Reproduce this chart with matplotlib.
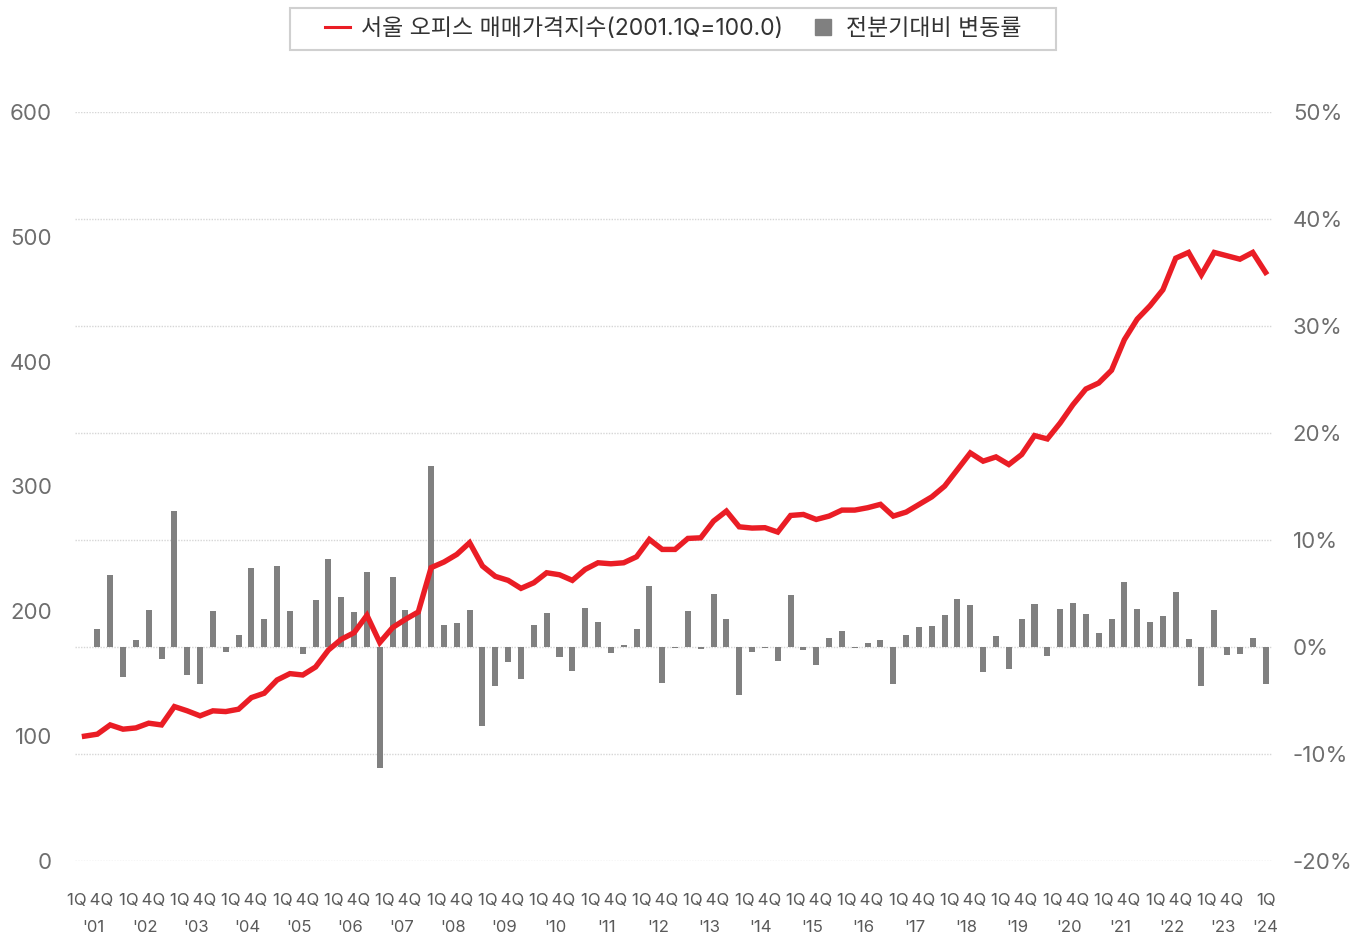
import matplotlib
matplotlib.use("Agg")
import matplotlib.pyplot as plt
from matplotlib.lines import Line2D
from matplotlib.patches import Rectangle
from matplotlib.transforms import blended_transform_factory
import numpy as np

plt.rcParams['font.family'] = ['Inter', 'Noto Sans CJK KR', 'DejaVu Sans']

# Quarters 2001Q1 .. 2024Q1
years = list(range(2001, 2025))
year_labels = ["'" + str(y)[2:] for y in years]
quarter_labels = ["1Q\u20094Q"] * 23 + ["1Q"]

index_values = [
    100, 101.6, 109, 105.6, 106.6, 110.4, 109, 123.7, 120.3, 116.3,
    120.3, 119.7, 121.6, 130.9, 134.4, 145, 150.1, 149, 155.4, 169,
    177.6, 182.9, 196.8, 175, 187, 193.6, 199.5, 235, 239.5, 245.6,
    255, 236.3, 228, 224.8, 218.4, 222.9, 230.9, 229.3, 224.8, 233.6,
    238.9, 238.1, 238.9, 243.7, 257.6, 249.6, 249.6, 258.4, 258.9, 272.3,
    280.3, 267.7, 266.7, 267, 263.5, 276.8, 277.6, 273.6, 276.3, 281.1,
    281.1, 283, 285.7, 276.3, 279.5, 285.6, 291.7, 300.3, 313.6, 326.9,
    320.3, 323.7, 317.6, 325.6, 340.8, 338.1, 350.9, 365.6, 378.1, 382.9,
    393.1, 417.6, 434.1, 444.8, 457.6, 482.9, 487.5, 469.6, 487.5, 484.8,
    482.1, 487.5, 471.5,
]

change_pct = [
    np.nan, 1.65, 6.7, -2.8, 0.63, 3.5, -1.15, 12.7, -2.6, -3.5,
    3.34, -0.5, 1.12, 7.36, 2.6, 7.54, 3.37, -0.7, 4.4, 8.26,
    4.64, 3.27, 7.0, -11.3, 6.58, 3.5, 3.27, 16.95, 2.03, 2.24,
    3.5, -7.4, -3.6, -1.43, -3.0, 2.1, 3.2, -0.93, -2.27, 3.6,
    2.34, -0.56, 0.19, 1.72, 5.7, -3.36, -0.05, 3.34, -0.2, 5.0,
    2.65, -4.5, -0.5, -0.1, -1.34, 4.86, -0.3, -1.65, 0.84, 1.53,
    -0.1, 0.42, 0.69, -3.5, 1.16, 1.87, 1.93, 2.96, 4.46, 3.9,
    -2.36, 1.0, -2.05, 2.59, 4.05, -0.87, 3.55, 4.1, 3.12, 1.31,
    2.59, 6.07, 3.52, 2.37, 2.87, 5.14, 0.75, -3.67, 3.5, -0.71,
    -0.62, 0.88, -3.49,
]

left_ticks = [0, 100, 200, 300, 400, 500, 600]
right_ticks = [-20, -10, 0, 10, 20, 30, 40, 50]

legend_line_label = "서울 오피스 매매가격지수(2001.1Q=100.0)"
legend_bar_label = "전분기대비 변동률"

RED = "#ea1d25"
BAR = "#808080"
TICK = "#6e6e6e"

W, H = 1367, 936
fig = plt.figure(figsize=(W / 100, H / 100), dpi=100)
ax = fig.add_axes([75 / W, (H - 861) / H, (1272 - 75) / W, (861 - 112) / H])
x = np.arange(len(index_values))

# bars on the main axes (percent, right side)
ax.bar(x, change_pct, width=0.47, color=BAR, zorder=2)
ax.set_ylim(-20, 50)
ax.set_yticks(right_ticks)
ax.set_yticklabels([f"{t}%" for t in right_ticks])
ax.grid(axis='y', color='#d6d6d6', linestyle=(0, (1, 1)), linewidth=1.0, zorder=0)
ax.set_axisbelow(True)

# line on twin axes (index, left side)
ax2 = ax.twinx()
ax2.plot(x, index_values, color=RED, linewidth=3.9, solid_joinstyle='miter', zorder=3)
ax2.set_ylim(0, 600)
ax2.set_yticks(left_ticks)

ax.yaxis.tick_right()
ax.yaxis.set_label_position("right")
ax2.yaxis.tick_left()
ax2.yaxis.set_label_position("left")

ax.set_xlim(-0.74, 92.5)
for a in (ax, ax2):
    for s in a.spines.values():
        s.set_visible(False)
    a.tick_params(length=0, labelsize=16, labelcolor=TICK)
    a.set_xticks([])
ax.tick_params(axis='y', pad=15)
ax2.tick_params(axis='y', pad=16.5)

trans = blended_transform_factory(ax.transData, ax.transAxes)
for k, (ql, yl) in enumerate(zip(quarter_labels, year_labels)):
    if k < 23:
        xq, xy = 4 * k + 0.45, 4 * k + 0.7
    else:
        xq, xy = 4 * k, 4 * k
    ax.text(xq, -39 / 749, ql, transform=trans, ha='center', va='center',
            fontsize=12, color='#5a5a5a')
    ax.text(xy, -67 / 749, yl, transform=trans, ha='center', va='center',
            fontsize=12, color='#5a5a5a')

# legend frame
fig.patches.append(Rectangle((290 / W, 1 - 50 / H), (1056 - 290) / W, 42 / H,
                             transform=fig.transFigure, facecolor='white',
                             edgecolor='#d0d0d0', linewidth=1.5))
handles = [Line2D([], [], color=RED, linewidth=2.2),
           Line2D([], [], marker='s', color=BAR, linestyle='none', markersize=12)]
leg = fig.legend(handles, [legend_line_label, legend_bar_label],
                 loc='center', bbox_to_anchor=(673 / W, 1 - 29 / H), ncol=2,
                 frameon=False, fontsize=16.5, handlelength=1.1,
                 handletextpad=0.45, columnspacing=1.2)
for t in leg.get_texts():
    t.set_color('#333333')

fig.savefig("out.png", dpi=100)
